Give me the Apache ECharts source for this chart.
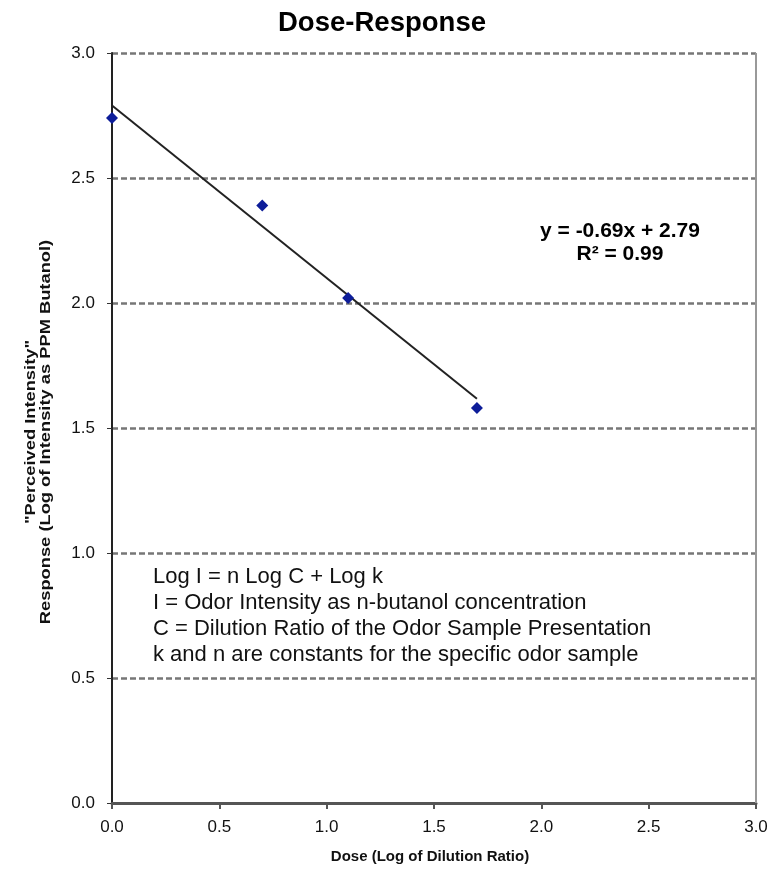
<!DOCTYPE html>
<html>
<head>
<meta charset="utf-8">
<script src="https://cdn.jsdelivr.net/npm/echarts@6/dist/echarts.min.js"></script>
<style>
  html, body { margin: 0; padding: 0; background: #fff; }
  #chart { width: 773px; height: 869px; }
</style>
</head>
<body>
<div id="chart"></div>
<script>
// Dose: log10 of dilution ratio; response: log10 of perceived intensity (ppm butanol)
const doseValues = [0.0, 0.70, 1.10, 1.70];
const responseValues = [2.74, 2.39, 2.02, 1.58];

// Linear fit reported on the chart
const fitSlope = -0.69;
const fitIntercept = 2.79;
const fitRSquared = 0.99;

const axisTicks = [0.0, 0.5, 1.0, 1.5, 2.0, 2.5, 3.0];

const chartTitle = 'Dose-Response';
const xTitle = 'Dose (Log of Dilution Ratio)';
const yTitleLines = ['"Perceived Intensity"', 'Response (Log of Intensity as PPM Butanol)'];

const noteLines = [
  'Log I = n Log C + Log k',
  'I = Odor Intensity as n-butanol concentration',
  'C = Dilution Ratio of the Odor Sample Presentation',
  'k and n are constants for the specific odor sample'
];

const points = doseValues.map((d, i) => [d, responseValues[i]]);
const fitStart = doseValues[0];
const fitEnd = doseValues[doseValues.length - 1];
const fitLine = [
  [fitStart, fitSlope * fitStart + fitIntercept],
  [fitEnd, fitSlope * fitEnd + fitIntercept]
];

const FONT = '"Liberation Sans", Arial, Helvetica, sans-serif';
const fmt = v => v.toFixed(1);

const chart = echarts.init(document.getElementById('chart'), null, { renderer: 'canvas' });

chart.setOption({
  animation: false,
  backgroundColor: '#ffffff',
  grid: { left: 112, right: 17, top: 53, bottom: 66, containLabel: false },
  xAxis: {
    type: 'value',
    min: axisTicks[0],
    max: axisTicks[axisTicks.length - 1],
    interval: 0.5,
    axisLine: { show: true, lineStyle: { color: '#555', width: 3 } },
    axisTick: { show: true, inside: false, length: 6, lineStyle: { color: '#555', width: 2 } },
    axisLabel: { formatter: fmt, fontFamily: FONT, fontSize: 17, color: '#111', margin: 16 },
    splitLine: { show: false }
  },
  yAxis: {
    type: 'value',
    min: axisTicks[0],
    max: axisTicks[axisTicks.length - 1],
    interval: 0.5,
    axisLine: { show: true, lineStyle: { color: '#222', width: 2 } },
    axisTick: { show: true, inside: false, length: 5, lineStyle: { color: '#333', width: 1 } },
    axisLabel: { formatter: fmt, fontFamily: FONT, fontSize: 17, color: '#111', margin: 17 },
    splitLine: { show: true, lineStyle: { color: '#777', width: 2.5, type: [6, 3] } }
  },
  graphic: [
    {
      type: 'text',
      x: 382, y: 24,
      scaleX: 1.02,
      style: {
        text: chartTitle,
        fill: '#000', font: 'bold 27px ' + FONT, align: 'center', verticalAlign: 'middle'
      }
    },
    {
      // frame edge on the right of the plot area
      type: 'line',
      shape: { x1: 756, y1: 53, x2: 756, y2: 803 },
      style: { stroke: '#999', lineWidth: 2 },
      z: 1
    },
    {
      type: 'text',
      x: 430, y: 857,
      style: {
        text: xTitle,
        fill: '#111', font: 'bold 15px ' + FONT, align: 'center', verticalAlign: 'middle'
      }
    },
    {
      type: 'text',
      x: 38, y: 432,
      rotation: Math.PI / 2,
      scaleX: 1.22,
      style: {
        text: yTitleLines.join('\n'),
        fill: '#111', font: 'bold 15px ' + FONT, lineHeight: 15,
        align: 'center', verticalAlign: 'middle'
      }
    },
    {
      type: 'text',
      x: 620, y: 231,
      style: {
        text: 'y = ' + fitSlope.toFixed(2) + 'x + ' + fitIntercept.toFixed(2),
        fill: '#000', font: 'bold 21px ' + FONT, align: 'center', verticalAlign: 'middle'
      }
    },
    {
      type: 'text',
      x: 620, y: 254,
      style: {
        text: 'R² = ' + fitRSquared.toFixed(2),
        fill: '#000', font: 'bold 21px ' + FONT, align: 'center', verticalAlign: 'middle'
      }
    },
    {
      type: 'text',
      x: 153, y: 564,
      style: {
        text: noteLines.join('\n'),
        fill: '#111', font: '22px ' + FONT, lineHeight: 26, align: 'left', verticalAlign: 'top'
      }
    }
  ],
  series: [
    {
      name: 'Linear fit',
      type: 'line',
      data: fitLine,
      symbol: 'none',
      lineStyle: { color: '#222', width: 2 },
      z: 3
    },
    {
      name: 'Response',
      type: 'scatter',
      data: points,
      symbol: 'diamond',
      symbolSize: 12,
      itemStyle: { color: '#0d1d99', opacity: 1 },
      z: 4
    }
  ]
});
</script>
</body>
</html>
